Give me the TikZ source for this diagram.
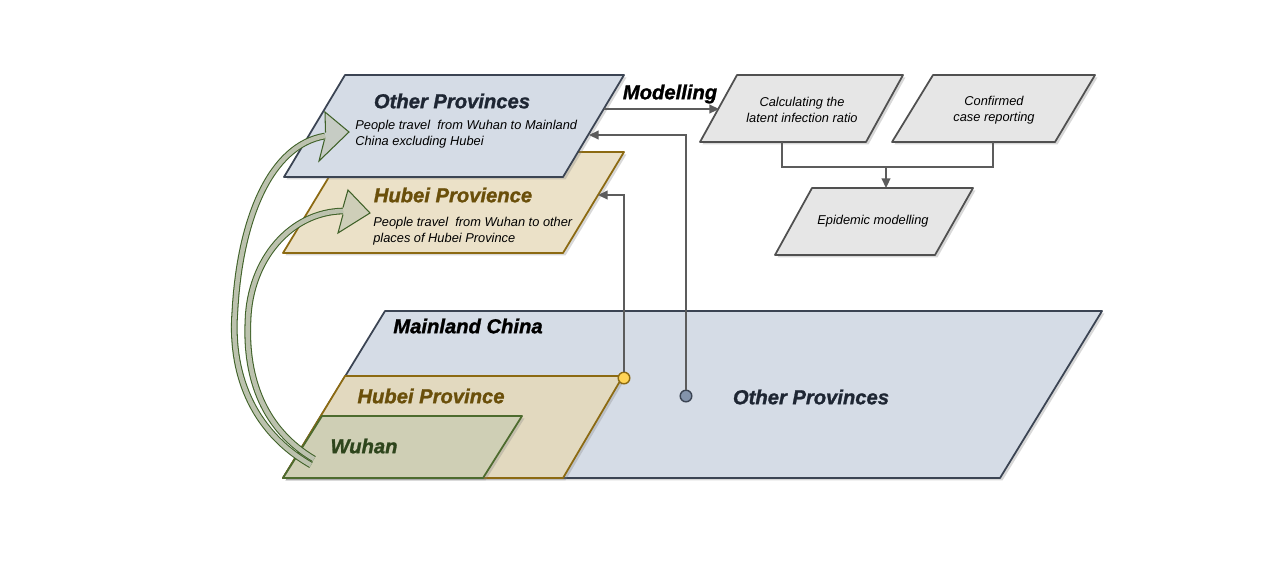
\documentclass[tikz,border=0pt]{standalone}
\usepackage{fontspec}
\setmainfont{Liberation Sans}[BoldItalicFeatures={FakeBold=1.3}]
\usetikzlibrary{arrows.meta,shadows}

\definecolor{provfill}{HTML}{D5DCE6}
\definecolor{provline}{HTML}{3B4453}
\definecolor{provtext}{HTML}{1E2633}
\definecolor{hubfill}{HTML}{EBE1C8}
\definecolor{hubfillb}{HTML}{E2D9BF}
\definecolor{hubline}{HTML}{8C6A12}
\definecolor{hubtext}{HTML}{6A4F0A}
\definecolor{wufill}{HTML}{CFCFB5}
\definecolor{wuline}{HTML}{4D6B2E}
\definecolor{wutext}{HTML}{2E451C}
\definecolor{stepfill}{HTML}{E6E6E6}
\definecolor{stepline}{HTML}{505050}
\definecolor{linkgray}{HTML}{5C5C5C}
\definecolor{arrline}{HTML}{3F6128}
\definecolor{arrfill}{HTML}{BCC2AE}
\definecolor{dotyellow}{HTML}{FFD456}
\definecolor{dotblue}{HTML}{8393AB}

\tikzset{
  area/.style={line width=1pt, line join=round,
    drop shadow={shadow xshift=1.4pt, shadow yshift=-1.4pt, opacity=0.3}},
  provarea/.style={area, draw=provline, fill=provfill},
  hubarea/.style={area, draw=hubline, fill=#1},
  wuarea/.style={area, draw=wuline, fill=wufill},
  steparea/.style={area, draw=stepline, fill=stepfill},
  dot/.style={circle, minimum size=6.6pt, inner sep=0pt, line width=0.8pt}
}

\begin{document}
\begin{tikzpicture}[x=0.02cm, y=-0.02cm,
    every node/.style={font=\fontsize{7.3}{8.9}\selectfont\itshape, inner sep=0pt},
    title/.style={font=\fontsize{11.5}{14}\selectfont\bfseries\itshape},
    link/.style={draw=linkgray, line width=0.95pt},
    tolink/.style={link, -{Triangle[length=5.5pt,width=5pt]}},
    flow/.style={draw=arrline, line width=0.6pt, double=arrfill, double distance=2.6pt},
    flowhead/.style={draw=arrline, line width=0.6pt, fill=arrfill, fill opacity=0.6}]

  \path[fill=white, use as bounding box] (0,0) rectangle (1274,576);

  % Mainland China
  \path[provarea] (385,311) -- (1102,311) -- (1000,478) -- (283,478) -- cycle;
  \path[hubarea=hubfillb] (345,376) -- (623,376) -- (563,478) -- (283,478) -- cycle;
  \path[wuarea] (322,416) -- (522,416) -- (483,478) -- (283,478) -- cycle;

  \node[title] (mainland) at (468,326) {Mainland China};
  \node[title, text=hubtext] (hubei) at (431,396) {Hubei Province};
  \node[title, text=wutext] (wuhan) at (364,446) {Wuhan};
  \node[title, text=provtext] (others) at (811,397) {Other Provinces};

  % Travel layers
  \path[hubarea=hubfill] (344,152) -- (624,152) -- (563,253) -- (283,253) -- cycle;
  \path[provarea] (345,75) -- (624,75) -- (563,177) -- (284,177) -- cycle;

  \node[title, text=provtext] (op-title) at (452,101) {Other Provinces};
  \node[anchor=west, align=left] (op-text) at (355,134) {People travel~ from Wuhan to Mainland\\China excluding Hubei};
  \node[title, text=hubtext] (hp-title) at (453,195) {Hubei Provience};
  \node[anchor=west, align=left] (hp-text) at (373,231) {People travel~ from Wuhan to other\\places of Hubei Province};

  \node[title] (modelling) at (670,94) {Modelling};

  % Modelling steps
  \path[steparea] (737,75) -- (903,75) -- (866,142) -- (700,142) -- cycle;
  \node[align=center] (calc) at (802,110) {Calculating the\\latent infection ratio};
  \path[steparea] (933,75) -- (1095,75) -- (1055,142) -- (892,142) -- cycle;
  \node[align=center] (report) at (994,110) {Confirmed\\case reporting};
  \path[steparea] (812,188) -- (973,188) -- (935,255) -- (775,255) -- cycle;
  \node (epi) at (873,221) {Epidemic modelling};

  % Connect the layers
  \coordinate (op-out) at (604,109);
  \coordinate (calc-in) at (719,109);
  \coordinate (calc-s) at (782,142);
  \coordinate (report-s) at (993,142);
  \coordinate (join) at (886,167);
  \coordinate (epi-n) at (886,188);
  \coordinate (op-in) at (589,135);
  \coordinate (hp-in) at (598,195);
  \node[dot, fill=dotyellow, draw=hubline] (hubei-dot) at (624,378) {};
  \node[dot, fill=dotblue, draw=provline] (others-dot) at (686,396) {};

  \draw[tolink] (op-out) -- (calc-in);
  \draw[link] (calc-s) |- (join) -| (report-s);
  \draw[tolink] (join) -- (epi-n);
  \draw[tolink] (others-dot) |- (op-in);
  \draw[tolink] (hubei-dot) |- (hp-in);

  % Travel from Wuhan
  \coordinate (wu-tail-a) at (311,465);
  \coordinate (wu-tail-b) at (314,459);
  \coordinate (op-head) at (325,136);
  \coordinate (hp-head) at (343,211);
  \draw[flow] (wu-tail-a) .. controls (250,430) and (230,370) .. (235,310)
    .. controls (240,220) and (270,145) .. (op-head);
  \filldraw[flowhead] (325.5,132.5) -- (325,112) -- (349,132) -- (319,161) -- (324.5,139.5);
  \draw[flow] (wu-tail-b) .. controls (265,430) and (245,380) .. (248,320)
    .. controls (250,260) and (290,212) .. (hp-head);
  \filldraw[flowhead] (343,207.5) -- (348,190) -- (370,213) -- (338,233) -- (343,214.5);

\end{tikzpicture}
\end{document}
